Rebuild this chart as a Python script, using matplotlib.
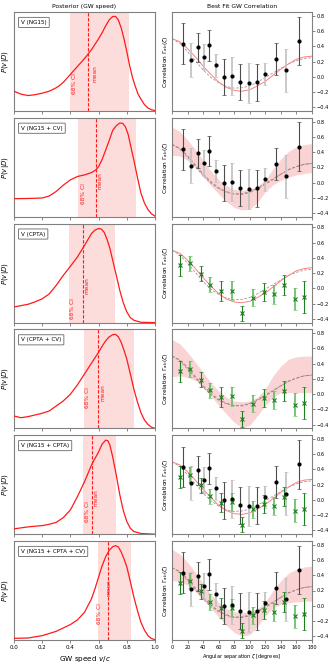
"""
Posterior of the GW speed (left) and best-fit correlation curve (right)
for six dataset combinations. Values read off the reference figure.
"""
import numpy as np
import matplotlib
matplotlib.use("Agg")
import matplotlib.pyplot as plt

# ---------- left column: posterior P(v|D), y in axis-height fraction ----------
V_NG15 = [0, .05, .1, .15, .2, .25, .3, .325, .35, .375, .4, .45, .5, .55, .6, .625, .65, .675, .7, .72,
          .74, .76, .78, .8, .82, .84, .86, .88, .9, .925, .95, .975, 1.0]
P_NG15 = [.20, .17, .156, .165, .18, .20, .235, .26, .29, .33, .37, .45, .53, .62, .73, .79, .86, .92, .955, .955,
          .92, .84, .73, .60, .46, .34, .25, .17, .12, .065, .03, .012, .005]

V_NG15_CV = [0, .1, .2, .25, .3, .35, .4, .45, .5, .55, .58, .6, .625, .65, .675, .7, .725, .75, .77,
             .79, .81, .83, .85, .875, .9, .925, .95, .975, 1.0]
P_NG15_CV = [.183, .185, .19, .21, .257, .32, .373, .407, .423, .447, .473, .507, .58, .673, .77, .873, .92, .947, .945,
             .91, .83, .70, .573, .40, .24, .14, .073, .03, .007]

V_CPTA = [0, .1, .15, .2, .25, .3, .35, .4, .45, .5, .525, .55, .575, .6, .62, .64, .66, .68, .7,
          .725, .75, .775, .8, .825, .85, .9, 1.0]
P_CPTA = [.158, .185, .21, .24, .29, .377, .478, .569, .663, .78, .84, .9, .935, .95, .945, .91, .84, .75, .63,
          .48, .327, .20, .108, .05, .024, .003, 0]

V_CPTA_CV = [0, .05, .1, .2, .25, .3, .35, .4, .45, .5, .55, .6, .625, .65, .675, .7, .72, .74, .76,
             .78, .8, .825, .85, .875, .9, .925, .95, .975, 1.0]
P_CPTA_CV = [.125, .108, .119, .153, .176, .227, .278, .346, .44, .55, .66, .77, .83, .885, .925, .946, .95, .925, .87,
             .79, .70, .55, .397, .27, .16, .085, .04, .012, 0]

V_NG15_CPTA = [0, .1, .2, .25, .3, .35, .4, .45, .5, .55, .6, .625, .65, .665, .68, .7, .725, .75, .775,
               .8, .825, .85, .9, 1.0]
P_NG15_CPTA = [.054, .074, .087, .10, .12, .168, .245, .38, .53, .70, .832, .91, .95, .945, .90, .78, .60, .40, .24,
               .128, .06, .027, .007, 0]

V_ALL = [0, .1, .2, .3, .4, .45, .5, .55, .575, .6, .625, .65, .675, .7, .72, .74, .76, .78, .8,
         .825, .85, .875, .9, .925, .95, .975, 1.0]
P_ALL = [.017, .02, .044, .088, .156, .203, .28, .417, .52, .637, .75, .84, .905, .942, .953, .94, .89, .82, .739,
         .59, .434, .30, .18, .10, .044, .015, .003]

LABELS = ["V (NG15)", "V (NG15 + CV)", "V (CPTA)", "V (CPTA + CV)",
          "V (NG15 + CPTA)", "V (NG15 + CPTA + CV)"]
CI_LO = [0.40, 0.455, 0.389, 0.495, 0.488, 0.594]
CI_HI = [0.817, 0.865, 0.716, 0.85, 0.72, 0.833]
V_MEAN = [0.526, 0.58, 0.486, 0.597, 0.552, 0.666]

# ---------- right column: binned correlations ----------
NG_ANG = [13.7, 24, 33.4, 41.6, 48, 56, 66.4, 77, 88, 98.6, 108.9, 119.6, 133.7, 146.6, 163.7]
NG_CORR = [.435, .222, .387, .257, .413, .152, -.004, .013, -.07, -.083, -.074, .04, .239, .083, .47]
NG_ERR = [.265, .226, .19, .17, .2, .15, .24, .25, .24, .26, .245, .146, .21, .28, .32]

CP_ANG = [10.3, 23.6, 36.9, 49, 63.4, 77, 90, 104, 117.9, 131, 144.4, 157.7, 170.1]
CP_CORR = [.30, .33, .19, .05, -.035, -.03, -.326, -.125, -.052, -.08, .045, -.14, -.114]
CP_ERR = [.14, .1, .1, .1, .13, .12, .1, .11, .12, .12, .13, .15, .21]

ANG = [0, 10, 20, 30, 40, 50, 60, 70, 80, 90, 100, 110, 120, 130, 140, 150, 160, 170, 180]
HD_CURVE = [.50, .44, .33, .21, .09, -.01, -.08, -.13, -.15, -.145, -.12, -.07, -.01, .05, .11, .17, .21, .24, .25]
FIT_CURVE = [.50, .46, .37, .26, .14, .03, -.07, -.14, -.18, -.19, -.17, -.12, -.06, .02, .10, .17, .23, .26, .27]
MID_CURVE = [.50, .45, .35, .23, .11, .01, -.07, -.12, -.15, -.155, -.13, -.08, -.02, .04, .11, .17, .21, .24, .25]

BAND_UP_2 = [.73, .67, .56, .43, .29, .15, .04, -.04, -.09, -.10, -.09, -.05, .04, .18, .31, .41, .47, .50, .51]
BAND_LO_2 = [.36, .35, .29, .20, .08, -.04, -.15, -.25, -.33, -.36, -.35, -.26, -.12, -.03, .03, .07, .10, .12, .13]
BAND_UP_4 = [.72, .66, .55, .42, .285, .15, .04, -.04, -.09, -.10, -.09, -.04, .07, .24, .37, .46, .49, .50, .50]
BAND_LO_4 = [.23, .24, .22, .18, .09, -.02, -.15, -.26, -.37, -.44, -.41, -.28, -.15, -.04, .02, .02, .02, .02, .02]
BAND_UP_6 = [.74, .68, .57, .44, .29, .15, .04, -.04, -.08, -.09, -.08, -.04, .05, .20, .33, .43, .48, .51, .52]
BAND_LO_6 = [.33, .32, .27, .19, .08, -.03, -.15, -.26, -.35, -.40, -.38, -.27, -.13, -.03, .02, .04, .05, .06, .06]

POSTERIORS = [(V_NG15, P_NG15), (V_NG15_CV, P_NG15_CV), (V_CPTA, P_CPTA),
              (V_CPTA_CV, P_CPTA_CV), (V_NG15_CPTA, P_NG15_CPTA), (V_ALL, P_ALL)]
SHOW_NG = [True, True, False, False, True, True]
SHOW_CP = [False, False, True, True, True, True]
BANDS = [None, (BAND_LO_2, BAND_UP_2), None, (BAND_LO_4, BAND_UP_4), None, (BAND_LO_6, BAND_UP_6)]

# text spots for "68% CI" / "mean" (axes fraction)
CI_TXT = [(.43, .28), (.49, .23), (.415, .14), (.52, .31), (.52, .23), (.609, .27)]
MEAN_TXT = [(.575, .38), (.61, .37), (.52, .37), (.63, .36), (.585, .37), (.673, .53)]

RED = "#ff1a1a"; SHADE = "#fddcdc"; SPINE = "#808080"
W, H = 332, 664

fig = plt.figure(figsize=(W / 100, H / 100), dpi=100)


def frame(ax):
    for s in ax.spines.values():
        s.set_color(SPINE); s.set_linewidth(0.8)
    ax.tick_params(length=2, width=0.5, color="#555", labelsize=3.6, pad=1.5)


def errs(ax, x, y, e, dark, light, marker, ms):
    x = np.array(x); y = np.array(y); e = np.array(e)
    for sl, col, lw in ((slice(1, None, 2), light, 1.3), (slice(0, None, 2), dark, 0.8)):
        ax.errorbar(x[sl], y[sl], yerr=e[sl], fmt="none", ecolor=col,
                    elinewidth=lw, capsize=1.7, capthick=0.5, zorder=3)
    ax.plot(x, y, ls="none", marker=marker, ms=ms, color=dark if marker == "x" else "k",
            mew=0.8, zorder=4)


for i in range(6):
    top = 12 + i * 105.8
    bot = 1 - (top + 99) / H
    axL = fig.add_axes([14 / W, bot, 141 / W, 99 / H])
    axR = fig.add_axes([172 / W, bot, 140 / W, 99 / H])

    # ---- posterior ----
    v, p = POSTERIORS[i]
    axL.axvspan(CI_LO[i], CI_HI[i], color=SHADE, lw=0, zorder=0)
    axL.plot(v, p, color=RED, lw=0.9, zorder=3)
    axL.axvline(V_MEAN[i], color=RED, ls=(0, (3, 1.5)), lw=0.8, zorder=2)
    axL.text(*CI_TXT[i], "68% CI", transform=axL.transAxes, rotation=90,
             color=RED, fontsize=4.2, ha="center", va="center")
    axL.text(*MEAN_TXT[i], "mean", transform=axL.transAxes, rotation=90,
             color=RED, fontsize=4.2, ha="center", va="center")
    axL.text(0.05, 0.92, LABELS[i], transform=axL.transAxes, fontsize=4.1,
             va="top", ha="left",
             bbox=dict(boxstyle="round,pad=0.45,rounding_size=0.1", fc="white",
                       ec="#666", lw=0.6))
    axL.set_xlim(0, 1); axL.set_ylim(0, 1)
    axL.set_xticks(np.arange(0, 1.01, 0.2)); axL.set_yticks([])
    axL.set_ylabel("$P(v|D)$", fontsize=5, labelpad=2)
    frame(axL)
    axL.tick_params(labelsize=4)

    # ---- correlation ----
    if BANDS[i] is not None:
        lo, up = BANDS[i]
        axR.fill_between(ANG, lo, up, color="#f9c6c6", alpha=0.75, lw=0, zorder=1)
        axR.plot(ANG, HD_CURVE, color="#999", ls=(0, (3, 2)), lw=0.6, zorder=2)
        axR.plot(ANG, MID_CURVE, color="#b47c7c", ls=(0, (3, 2)), lw=0.7, zorder=2)
    else:
        axR.plot(ANG, HD_CURVE, color="#999", ls=(0, (3, 2)), lw=0.6, zorder=2)
        axR.plot(ANG, FIT_CURVE, color="#ff8080", lw=0.7, zorder=2)
    if SHOW_NG[i]:
        errs(axR, NG_ANG, NG_CORR, NG_ERR, "#4d4d4d", "#c4c4c4", "o", 2.2)
    if SHOW_CP[i]:
        errs(axR, CP_ANG, CP_CORR, CP_ERR, "#1e7d1e", "#6cc06c", "x", 2.6)
    axR.set_xlim(0, 180); axR.set_ylim(-0.45, 0.85)
    axR.set_xticks(range(0, 181, 20))
    axR.set_yticks(np.arange(-0.4, 0.81, 0.2))
    axR.yaxis.tick_right()
    axR.set_ylabel(r"Correlation $\Gamma_{ab}(\zeta)$", fontsize=4.2, labelpad=1.5)
    frame(axR)

    if i == 0:
        axL.set_title("Posterior (GW speed)", fontsize=4.3, pad=3)
        axR.set_title("Best Fit GW Correlation", fontsize=4.3, pad=3)
    if i < 5:
        axL.tick_params(labelbottom=False)
        axR.tick_params(labelbottom=False)
    else:
        axL.set_xlabel("GW speed $v/c$", fontsize=5.2, labelpad=3)
        axR.set_xlabel(r"Angular separation $\zeta$ [degrees]", fontsize=3.6, labelpad=1.5)

fig.savefig("out.png", dpi=100)
